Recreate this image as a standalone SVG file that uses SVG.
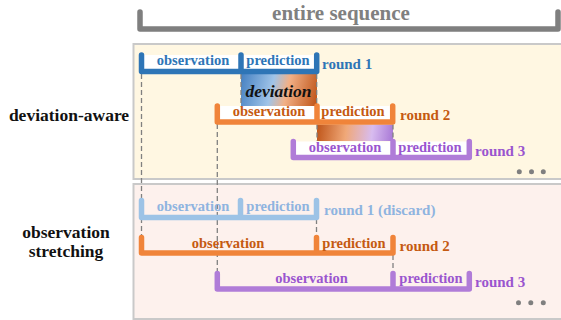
<svg xmlns="http://www.w3.org/2000/svg" width="561" height="320" viewBox="0 0 561 320">
<defs>
<linearGradient id="g1" gradientUnits="userSpaceOnUse" x1="241" y1="82" x2="317" y2="100">
<stop offset="0" stop-color="#4a84c4"/>
<stop offset="0.4" stop-color="#a0c4e8"/>
<stop offset="0.6" stop-color="#f2b086"/>
<stop offset="1" stop-color="#c0561a"/>
</linearGradient>
<linearGradient id="g2" gradientUnits="userSpaceOnUse" x1="317" y1="128" x2="393" y2="138">
<stop offset="0" stop-color="#c0561a"/>
<stop offset="0.38" stop-color="#f0a878"/>
<stop offset="0.72" stop-color="#d8bcef"/>
<stop offset="1" stop-color="#a878d6"/>
</linearGradient>
<style>
text{font-family:"Liberation Serif","Times New Roman",serif;font-weight:bold}
.lbl{font-size:14.5px;text-anchor:middle}
.rnd{font-size:15px}
.side{font-size:17.5px;text-anchor:middle;fill:#111}
.br{fill:none;stroke-width:5.5;stroke-linecap:round;stroke-linejoin:round}
.dash{stroke:#808080;stroke-width:1.3;stroke-dasharray:5,3;fill:none}
.blue{stroke:#2e75b6}.tblue{fill:#2e75b6}
.lb{stroke:#9dc3e6}.tlb{fill:#8fb4e0}
.or{stroke:#f0843a}.tor{fill:#c55a11}
.pu{stroke:#b07cd8}.tpu{fill:#9a55cf}
.dot{fill:#7f7f7f}
.wf{fill:#ffffff}
</style>
</defs>

<g id="panel-deviation-aware">
<rect x="133.5" y="44" width="432" height="135" fill="#fff7e2" stroke="#c9c9c9" stroke-width="2"/>
</g>
<g id="panel-observation-stretching">
<rect x="133.5" y="184" width="432" height="135" fill="#fdf1ed" stroke="#c9c9c9" stroke-width="2"/>
</g>

<g id="entire-sequence">
<path class="br" d="M140,12 V29 H558 V12" stroke="#7f7f7f"/>
<text x="341" y="19.5" font-size="21" fill="#808080" text-anchor="middle">entire sequence</text>
</g>

<g id="connectors">
<path class="dash" d="M141.5,74 V237"/>
<path class="dash" d="M217.3,124 V273"/>
<path class="dash" d="M316.5,219 V237"/>
<path class="dash" d="M393,255 V273"/>
</g>

<g id="label-deviation-aware">
<text class="side" x="69" y="120.5">deviation-aware</text>
</g>
<g id="label-observation-stretching">
<text class="side" x="66" y="237.5">observation</text>
<text class="side" x="66" y="257">stretching</text>
</g>

<g id="deviation-1">
<rect x="241" y="74" width="76" height="32" fill="url(#g1)"/>
<path class="dash" d="M241,74 V106 M316.7,74 V106"/>
<text x="278.5" y="97" font-size="17.5" font-style="italic" fill="#111" text-anchor="middle">deviation</text>
</g>
<g id="deviation-2">
<rect x="317" y="124.5" width="76" height="16.5" fill="url(#g2)"/>
<path class="dash" d="M317,124.5 V141 M393,124.5 V141"/>
</g>

<g id="da-round1">
<rect class="wf" x="141.5" y="55" width="175.2" height="16"/>
<path class="br blue" d="M141.5,55 V71.5 H316.7 V55 M241,55 V71.5"/>
<text class="lbl tblue" x="193" y="65">observation</text>
<text class="lbl tblue" x="278" y="65">prediction</text>
<text class="rnd tblue" x="322" y="69">round 1</text>
</g>
<g id="da-round2">
<rect class="wf" x="217.3" y="106" width="175.4" height="16"/>
<path class="br or" d="M217.3,106 V122 H392.7 V106 M317,106 V122"/>
<text class="lbl tor" x="269" y="116">observation</text>
<text class="lbl tor" x="353" y="116">prediction</text>
<text class="rnd tor" x="400" y="120">round 2</text>
</g>
<g id="da-round3">
<rect class="wf" x="293.3" y="141.5" width="176" height="16"/>
<path class="br pu" d="M293.3,141.5 V157.5 H469.3 V141.5 M393,141.5 V157.5"/>
<text class="lbl tpu" x="345" y="152">observation</text>
<text class="lbl tpu" x="430" y="152">prediction</text>
<text class="rnd tpu" x="475" y="156">round 3</text>
</g>
<g id="da-more">
<circle class="dot" cx="519.3" cy="171.7" r="2.5"/>
<circle class="dot" cx="531.5" cy="171.7" r="2.5"/>
<circle class="dot" cx="543.3" cy="171.7" r="2.5"/>
</g>

<g id="os-round1-discard">
<path class="br lb" d="M141.5,200.5 V217.5 H316.5 V200.5 M240.5,200.5 V217.5"/>
<text class="lbl tlb" x="193" y="211">observation</text>
<text class="lbl tlb" x="278" y="211">prediction</text>
<text class="rnd tlb" x="324" y="215">round 1 (discard)</text>
</g>
<g id="os-round2">
<path class="br or" d="M141.5,237.5 V253 H393 V237.5 M316.5,237.5 V253"/>
<text class="lbl tor" x="228" y="248">observation</text>
<text class="lbl tor" x="354" y="248">prediction</text>
<text class="rnd tor" x="399.5" y="251">round 2</text>
</g>
<g id="os-round3">
<path class="br pu" d="M217.3,273.5 V289 H469.3 V273.5 M393,273.5 V289"/>
<text class="lbl tpu" x="311.5" y="283">observation</text>
<text class="lbl tpu" x="431" y="283">prediction</text>
<text class="rnd tpu" x="475" y="286.5">round 3</text>
</g>
<g id="os-more">
<circle class="dot" cx="518.5" cy="302.7" r="2.5"/>
<circle class="dot" cx="530.8" cy="302.7" r="2.5"/>
<circle class="dot" cx="543.3" cy="302.7" r="2.5"/>
</g>
</svg>
